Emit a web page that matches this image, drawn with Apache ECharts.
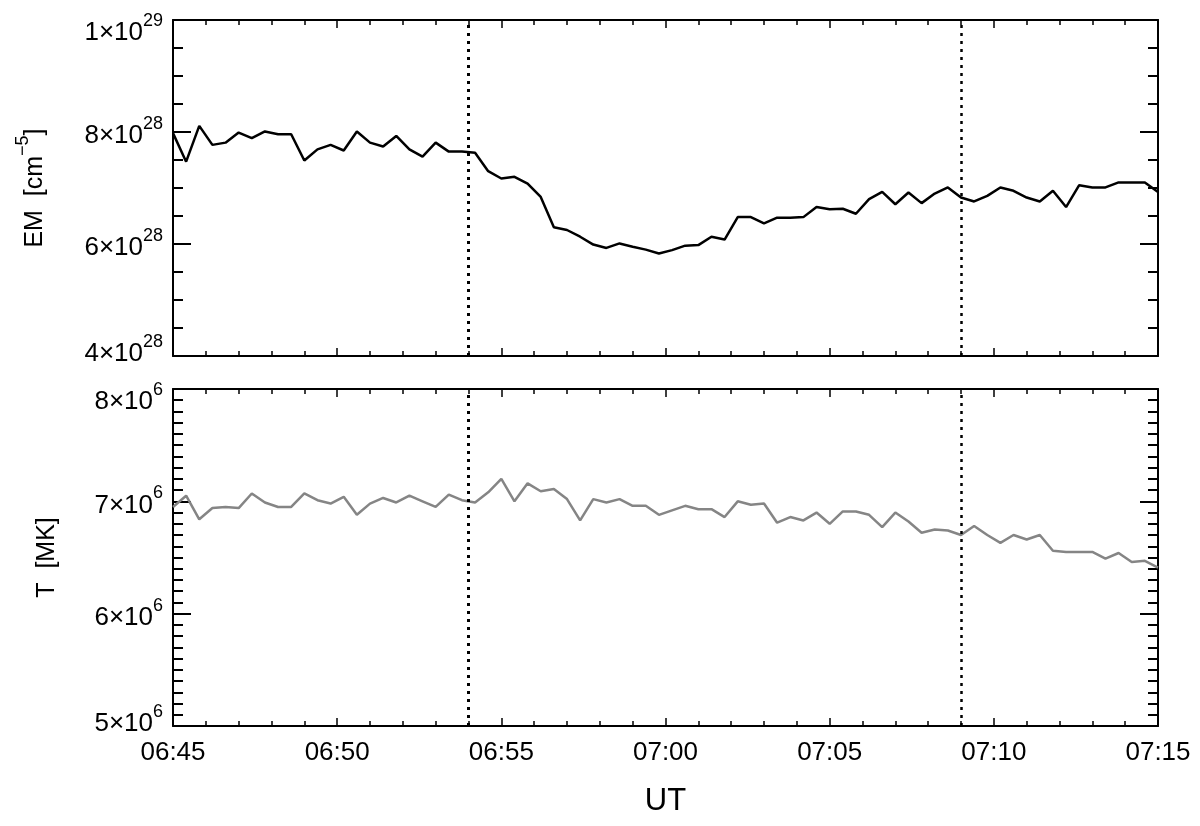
<!DOCTYPE html>
<html>
<head>
<meta charset="utf-8">
<script src="https://cdn.jsdelivr.net/npm/echarts@6/dist/echarts.min.js"></script>
<style>
html,body{margin:0;padding:0;background:#fff;}
#chart{width:1200px;height:826px;}
</style>
</head>
<body>
<div id="chart"></div>
<script>
// ---- data ----
const times = [
 '06:45:00','06:45:24','06:45:48','06:46:12','06:46:36',
 '06:47:00','06:47:24','06:47:48','06:48:12','06:48:36',
 '06:49:00','06:49:24','06:49:48','06:50:12','06:50:36',
 '06:51:00','06:51:24','06:51:48','06:52:12','06:52:36',
 '06:53:00','06:53:24','06:53:48','06:54:12','06:54:36',
 '06:55:00','06:55:24','06:55:48','06:56:12','06:56:36',
 '06:57:00','06:57:24','06:57:48','06:58:12','06:58:36',
 '06:59:00','06:59:24','06:59:48','07:00:12','07:00:36',
 '07:01:00','07:01:24','07:01:48','07:02:12','07:02:36',
 '07:03:00','07:03:24','07:03:48','07:04:12','07:04:36',
 '07:05:00','07:05:24','07:05:48','07:06:12','07:06:36',
 '07:07:00','07:07:24','07:07:48','07:08:12','07:08:36',
 '07:09:00','07:09:24','07:09:48','07:10:12','07:10:36',
 '07:11:00','07:11:24','07:11:48','07:12:12','07:12:36',
 '07:13:00','07:13:24','07:13:48','07:14:12','07:14:36',
 '07:15:00'
];
// EM in units of 1e28 cm^-5
const emValues = [
 7.98,7.47,8.11,7.77,7.81,7.99,7.89,8.01,7.96,7.96,
 7.49,7.69,7.77,7.67,8.01,7.81,7.74,7.93,7.69,7.56,
 7.81,7.65,7.65,7.63,7.30,7.17,7.20,7.08,6.84,6.30,
 6.25,6.13,5.99,5.93,6.01,5.95,5.90,5.83,5.89,5.97,
 5.98,6.13,6.08,6.48,6.48,6.37,6.47,6.47,6.48,6.66,
 6.62,6.63,6.54,6.80,6.93,6.71,6.92,6.73,6.90,7.01,
 6.83,6.76,6.86,7.01,6.95,6.83,6.76,6.95,6.66,7.05,
 7.01,7.01,7.10,7.10,7.10,6.93
];
// T in units of 1e6 K
const tValues = [
 6.95,7.05,6.84,6.94,6.95,6.94,7.07,6.99,6.95,6.95,
 7.07,7.01,6.98,7.04,6.88,6.98,7.03,6.99,7.05,7.00,
 6.95,7.06,7.01,6.99,7.08,7.20,7.00,7.16,7.09,7.11,
 7.02,6.83,7.02,6.99,7.02,6.96,6.96,6.88,6.92,6.96,
 6.93,6.93,6.86,7.00,6.97,6.98,6.81,6.86,6.83,6.90,
 6.80,6.91,6.91,6.88,6.77,6.90,6.82,6.72,6.75,6.74,
 6.70,6.78,6.70,6.63,6.70,6.66,6.70,6.56,6.55,6.55,
 6.55,6.49,6.54,6.46,6.47,6.41
];
const xTickLabels = ['06:45','06:50','06:55','07:00','07:05','07:10','07:15'];
const markerTimes = ['06:54:00','07:09:00'];
const emTicks = [4e28, 6e28, 8e28, 1e29];
const tTicks = [5e6, 6e6, 7e6, 8e6];

// ---- helpers ----
function toMin(s){
  const p = s.split(':').map(Number);
  return (p[0]*60 + p[1] + (p[2]||0)/60) - (6*60+45);
}
const emData = times.map((t,i)=>[toMin(t), emValues[i]*1e28]);
const tData  = times.map((t,i)=>[toMin(t), tValues[i]*1e6]);
const marks = markerTimes.map(toMin);

const FONT = 'Liberation Sans, Arial, Helvetica, sans-serif';
function makeSci(ticks){
  return function(v){
    const e = Math.floor(Math.log10(v) + 1e-9);
    const m = Math.round(v / Math.pow(10, e));
    const core = '{b|' + m + '\u00d710}{s|' + e + '}';
    if (Math.abs(v - ticks[ticks.length-1]) < v*1e-6) return '{gt| }\n' + core;
    if (Math.abs(v - ticks[0]) < v*1e-6) return core + '\n{gu| }';
    return core;
  };
}
const sciRich = {
  b:{fontFamily:FONT,fontSize:26,color:'#000',lineHeight:34,verticalAlign:'bottom'},
  s:{fontFamily:FONT,fontSize:18,color:'#000',lineHeight:34,verticalAlign:'top'},
  gt:{fontSize:4,lineHeight:18},
  gu:{fontSize:4,lineHeight:12}
};

const axisLine = {show:true,onZero:false,lineStyle:{color:'#000',width:2}};

function xAx(grid, pos, labels){
  return {
    type:'value', gridIndex:grid, position:pos, min:0, max:30, interval:5,
    axisLine:axisLine,
    axisTick:{show:true,inside:true,length:8,lineStyle:{color:'#000',width:1.5}},
    minorTick:{show:true,splitNumber:5,length:5,lineStyle:{color:'#000',width:1.5}},
    splitLine:{show:false}, minorSplitLine:{show:false},
    axisLabel:{show:labels,margin:14,fontFamily:FONT,fontSize:26,color:'#000',
      formatter:function(v){return xTickLabels[Math.round(v/5)];}},
    name: (labels?'UT':''), nameLocation:'middle', nameGap:60,
    nameTextStyle:{fontFamily:FONT,fontSize:31,color:'#000'}
  };
}
function yAx(grid, pos, ticks, interval, minorSplit, labels, name, gap){
  return {
    type:'value', gridIndex:grid, position:pos, min:ticks[0], max:ticks[ticks.length-1], interval:interval,
    axisLine:axisLine,
    axisTick:{show:true,inside:true,length:18,lineStyle:{color:'#000',width:2}},
    minorTick:{show:true,splitNumber:minorSplit,length:10,lineStyle:{color:'#000',width:2}},
    splitLine:{show:false}, minorSplitLine:{show:false},
    axisLabel:{show:labels,margin:10,formatter:makeSci(ticks),rich:sciRich},
    name:name, nameLocation:'middle', nameGap:gap, nameRotate:90,
    nameTextStyle:{fontFamily:FONT,fontSize:25,color:'#000',rich:nameRich}
  };
}
const nameRich = {
  n:{fontFamily:FONT,fontSize:25,color:'#000',lineHeight:34,verticalAlign:'bottom'},
  s:{fontFamily:FONT,fontSize:18,color:'#000',lineHeight:34,verticalAlign:'top'}
};

function markLine(){
  return {
    silent:true, symbol:['none','none'], label:{show:false},
    lineStyle:{color:'#000',type:[3,5],width:3},
    data: marks.map((m,i)=>({xAxis:m, lineStyle:{width: i===0?3:2.5}}))
  };
}

const chart = echarts.init(document.getElementById('chart'), null, {renderer:'canvas'});
chart.setOption({
  animation:false,
  backgroundColor:'#fff',
  grid:[
    {left:173, top:20, width:985, height:336, show:false},
    {left:173, top:389, width:985, height:337, show:false}
  ],
  xAxis:[
    xAx(0,'bottom',false), xAx(0,'top',false),
    xAx(1,'bottom',true),  xAx(1,'top',false)
  ],
  yAxis:[
    yAx(0,'left',emTicks,2e28,4,true,'{n|EM  [cm}{s|\u22125}{n|]}',125),
    yAx(0,'right',emTicks,2e28,4,false,'',0),
    yAx(1,'left',tTicks,1e6,10,true,'{n|T  [MK]}',113),
    yAx(1,'right',tTicks,1e6,10,false,'',0)
  ],
  series:[
    {type:'line', xAxisIndex:0, yAxisIndex:0, data:emData, showSymbol:false,
     lineStyle:{color:'#000',width:2.5}, itemStyle:{color:'#000'}, markLine:markLine(), z:3},
    {type:'line', xAxisIndex:2, yAxisIndex:2, data:tData, showSymbol:false,
     lineStyle:{color:'#858585',width:2.5}, itemStyle:{color:'#858585'}, markLine:markLine(), z:3}
  ]
});
</script>
</body>
</html>
